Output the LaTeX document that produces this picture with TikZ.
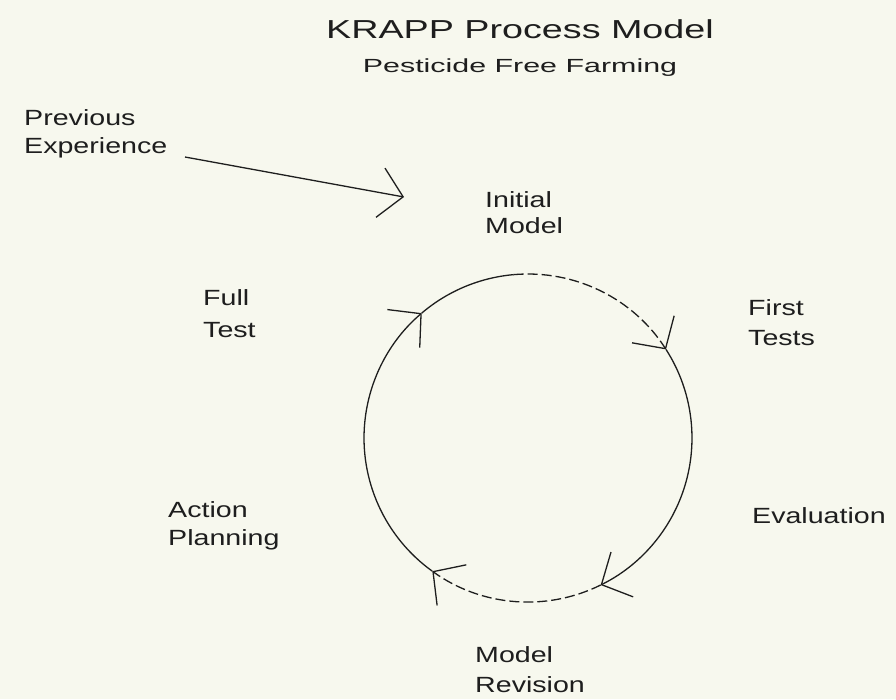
\documentclass[tikz,border=0pt]{standalone}
\usepackage{fontspec}
\setmainfont{Liberation Sans}
\usepackage{graphicx}
\usetikzlibrary{arrows.meta,calc}
\definecolor{paper}{RGB}{247,248,238}
\definecolor{ink}{RGB}{30,30,30}
\newcommand{\stx}[2]{\scalebox{#1}[1]{#2}}
\tikzset{
  lab/.style={anchor=base west, inner sep=0pt, text=ink, font=\fontsize{22}{26}\selectfont},
  barb/.style={-{Straight Barb[length=23pt,width=50pt]}},
  ring/.style={draw=ink, line width=1.3pt},
  gap/.style={dash pattern=on 10pt off 4pt}
}
\begin{document}
\begin{tikzpicture}[x=1pt,y=1pt]
\useasboundingbox (0,0) rectangle (896,-699);
\fill[paper] (0,0) rectangle (896,-699);

% titles
\node[anchor=base, inner sep=0pt, text=ink, font=\fontsize{26}{30}\selectfont] (title) at (520,-38) {\stx{1.45}{KRAPP Process Model}};
\node[anchor=base, inner sep=0pt, text=ink, font=\fontsize{19}{22}\selectfont] (sub) at (520,-72) {\stx{1.6}{Pesticide Free Farming}};

% labels
\node[lab] (prev1) at (24,-125) {\stx{1.3}{Previous}};
\node[lab] (prev2) at (24,-153) {\stx{1.3}{Experience}};
\node[lab] (init1) at (485,-207) {\stx{1.3}{Initial}};
\node[lab] (init2) at (485,-233) {\stx{1.3}{Model}};
\node[lab] (full1) at (203,-305) {\stx{1.3}{Full}};
\node[lab] (full2) at (203,-337) {\stx{1.3}{Test}};
\node[lab] (first1) at (748,-315) {\stx{1.3}{First}};
\node[lab] (first2) at (748,-345) {\stx{1.3}{Tests}};
\node[lab] (eval) at (752,-523) {\stx{1.3}{Evaluation}};
\node[lab] (act1) at (168,-517) {\stx{1.3}{Action}};
\node[lab] (act2) at (168,-545) {\stx{1.3}{Planning}};
\node[lab] (rev1) at (475,-662) {\stx{1.3}{Model}};
\node[lab] (rev2) at (475,-692) {\stx{1.3}{Revision}};

% cycle
\coordinate (c) at (528,-438);
\coordinate (t1) at ($(c)+(130.4:164)$);
\coordinate (tm) at ($(c)+(95:164)$);
\coordinate (t2) at ($(c)+(32.7:164)$);
\coordinate (t3) at ($(c)+(-63.7:164)$);
\coordinate (t4) at ($(c)+(-125.7:164)$);

\draw[ring, barb] (t4) arc[start angle=234.3, end angle=130.4, radius=164];
\draw[ring] (t1) arc[start angle=130.4, end angle=95, radius=164];
\draw[ring, gap, barb] (tm) arc[start angle=95, end angle=32.7, radius=164];
\draw[ring, barb] (t2) arc[start angle=32.7, end angle=-63.7, radius=164];
\draw[ring, gap, barb] (t3) arc[start angle=-63.7, end angle=-125.7, radius=164];

% previous experience arrow
\coordinate (pstart) at (185,-157);
\coordinate (ptip) at (404,-197);
\draw[ring, barb] (pstart) -- (ptip);
\end{tikzpicture}
\end{document}
